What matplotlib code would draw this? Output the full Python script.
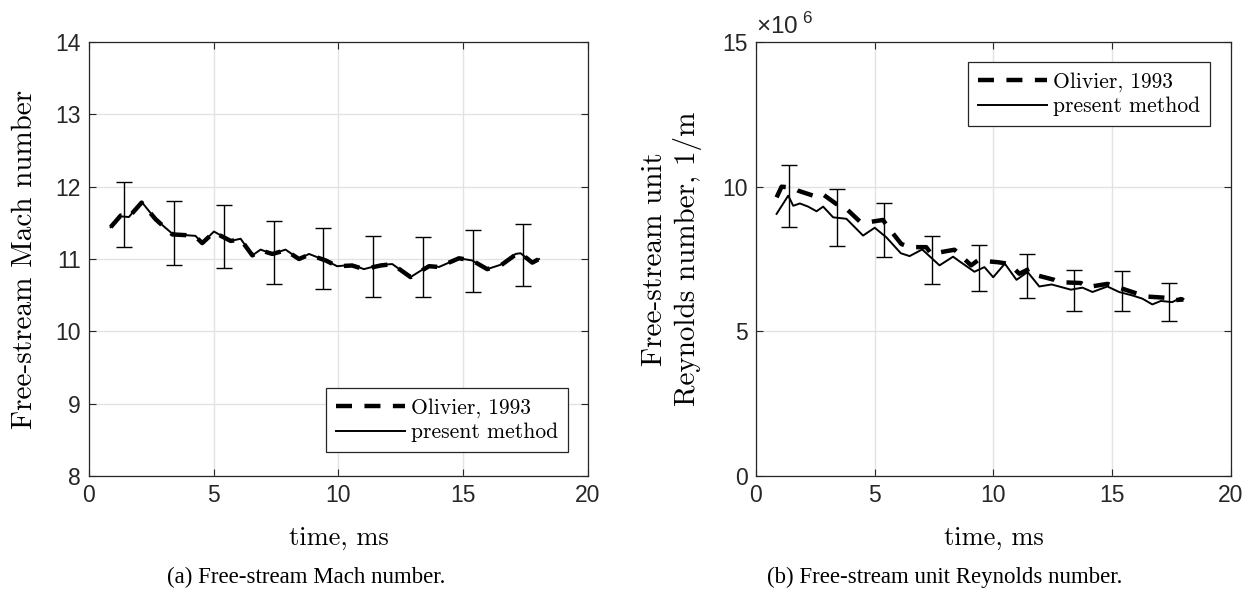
import matplotlib
matplotlib.use('Agg')
import matplotlib.pyplot as plt

# ---- data ----
# (a) Mach number
t_mach = [0.87, 1.27, 1.6, 2.11, 2.67, 3.34, 3.87, 4.27, 4.54, 5.01, 5.68, 6.08,
          6.55, 6.88, 7.35, 7.88, 8.42, 8.82, 9.49, 9.95, 10.55, 11.02, 11.69,
          12.16, 12.89, 13.63, 14.03, 14.83, 15.36, 15.96, 16.5, 17.1, 17.3,
          17.77, 18.04]
mach_present = [11.44, 11.59, 11.58, 11.79, 11.55, 11.35, 11.33, 11.32, 11.22,
                11.38, 11.25, 11.28, 11.05, 11.13, 11.07, 11.13, 11.0, 11.07,
                10.98, 10.9, 10.92, 10.86, 10.92, 10.93, 10.75, 10.91, 10.89,
                11.01, 10.98, 10.86, 10.92, 11.07, 11.08, 10.95, 11.0]
mach_olivier = [11.44, 11.60, 11.58, 11.78, 11.55, 11.34, 11.33, 11.31, 11.22,
                11.37, 11.25, 11.27, 11.05, 11.12, 11.07, 11.12, 11.0, 11.06,
                10.98, 10.9, 10.91, 10.86, 10.91, 10.93, 10.75, 10.90, 10.89,
                11.01, 10.98, 10.86, 10.91, 11.06, 11.08, 10.95, 11.0]

# error bars (both panels)
t_err = [1.4, 3.4, 5.4, 7.4, 9.4, 11.4, 13.4, 15.4, 17.4]
mach_err_c = [11.61, 11.36, 11.31, 11.085, 11.005, 10.895, 10.89, 10.97, 11.055]
mach_err = [0.45, 0.44, 0.44, 0.435, 0.425, 0.425, 0.42, 0.43, 0.435]

# (b) unit Reynolds number, x 10^6 1/m
t_re_present = [0.87, 1.36, 1.57, 1.85, 2.2, 2.55, 2.83, 3.25, 3.81, 4.51, 5.0,
                5.49, 6.1, 6.47, 7.0, 7.73, 8.3, 8.57, 9.2, 9.62, 9.99, 10.48,
                10.97, 11.44, 11.93, 12.45, 13.26, 13.75, 14.17, 14.8, 15.29,
                15.85, 16.27, 16.69, 17.05, 17.53, 17.89, 18.0]
re_present = [9.06, 9.69, 9.34, 9.42, 9.31, 9.15, 9.31, 8.94, 8.89, 8.31, 8.58,
              8.25, 7.7, 7.6, 7.83, 7.28, 7.58, 7.42, 7.06, 7.22, 6.87, 7.34,
              6.78, 7.05, 6.55, 6.62, 6.44, 6.51, 6.36, 6.55, 6.36, 6.24, 6.13,
              5.93, 6.05, 6.01, 6.16, 6.12]
t_re_olivier = [0.87, 1.08, 1.57, 1.78, 2.41, 2.76, 3.39, 3.74, 4.37, 4.72, 5.35,
                5.56, 6.12, 6.47, 7.17, 7.38, 8.15, 8.36, 9.06, 9.34, 10.18,
                10.67, 11.09, 11.51, 11.86, 12.56, 12.77, 13.68, 13.96, 14.8,
                15.15, 15.99, 16.5, 17.26, 17.47, 18.0]
re_olivier = [9.63, 10.0, 9.96, 9.86, 9.69, 9.77, 9.40, 9.29, 8.80, 8.77, 8.85,
              8.6, 8.02, 7.91, 7.91, 7.68, 7.79, 7.82, 7.28, 7.45, 7.39, 7.33,
              6.99, 7.16, 6.93, 6.78, 6.70, 6.67, 6.53, 6.64, 6.55, 6.32, 6.2,
              6.16, 6.07, 6.1]
re_err_c = [9.685, 8.94, 8.49, 7.46, 7.195, 6.905, 6.425, 6.385, 6.005]
re_err = [1.065, 0.98, 0.93, 0.82, 0.785, 0.755, 0.705, 0.695, 0.665]

# ---- style ----
plt.rcParams['font.family'] = ['Liberation Sans', 'DejaVu Sans']
plt.rcParams['mathtext.fontset'] = 'custom'
plt.rcParams['mathtext.rm'] = 'Liberation Sans'
plt.rcParams['axes.unicode_minus'] = False
serif = 'cmr10'
axc = '#262626'

fig = plt.figure(figsize=(12.53, 5.95), dpi=100)
ax1 = fig.add_axes([0.0710, 0.2, 0.3982, 0.7294])
ax2 = fig.add_axes([0.6033, 0.2, 0.3791, 0.7294])


def style(ax):
    ax.grid(True, color='#e3e3e3', linewidth=1.0)
    ax.set_axisbelow(True)
    ax.tick_params(direction='in', top=True, right=True, length=5,
                   color=axc, labelsize=16.5, labelcolor=axc, pad=6)
    for s in ax.spines.values():
        s.set_color(axc)
        s.set_linewidth(0.9)


def draw(ax, t1, y1, t2, y2, yc, ye):
    ax.plot(t1, y1, color='k', lw=3.2, ls=(0, (3.6, 2.8)),
            label='Olivier, 1993')
    ax.plot(t2, y2, color='k', lw=1.4, label='present method')
    ax.errorbar(t_err, yc, yerr=ye, fmt='none', ecolor='k', elinewidth=1.0,
                capsize=5.5, capthick=1.0)


def legend(ax, loc, anchor):
    leg = ax.legend(loc=loc, bbox_to_anchor=anchor,
                    prop={'family': serif, 'size': 15.5}, handlelength=3.2,
                    handletextpad=0.3, borderpad=0.45, labelspacing=0.25,
                    borderaxespad=0, fancybox=False, framealpha=1)
    leg.get_frame().set_edgecolor(axc)
    leg.get_frame().set_linewidth(0.9)


# (a)
draw(ax1, t_mach, mach_olivier, t_mach, mach_present, mach_err_c, mach_err)
style(ax1)
ax1.set_xlim(0, 20)
ax1.set_ylim(8, 14)
ax1.set_xticks([0, 5, 10, 15, 20])
ax1.set_yticks(range(8, 15))
ax1.set_xlabel('time, ms', family=serif, fontsize=19)
ax1.set_ylabel('Free-stream Mach number', family=serif, fontsize=21)
ax1.yaxis.set_label_coords(-0.102, 0.5)
ax1.xaxis.set_label_coords(0.5, -0.115)
legend(ax1, 'lower right', (0.96, 0.055))

# (b)
draw(ax2, t_re_olivier, re_olivier, t_re_present, re_present, re_err_c, re_err)
style(ax2)
ax2.set_xlim(0, 20)
ax2.set_ylim(0, 15)
ax2.set_xticks([0, 5, 10, 15, 20])
ax2.set_yticks([0, 5, 10, 15])
ax2.set_xlabel('time, ms', family=serif, fontsize=19)
ax2.set_ylabel('Free-stream unit\nReynolds number, 1/m', family=serif,
               fontsize=21, linespacing=1.25)
ax2.yaxis.set_label_coords(-0.113, 0.5)
ax2.xaxis.set_label_coords(0.5, -0.115)
ax2.text(0.0, 1.008, r'$\times10^{\ 6}$', transform=ax2.transAxes,
         fontsize=17.5, color=axc, ha='left', va='bottom')
legend(ax2, 'upper right', (0.956, 0.954))

# captions
fig.text(0.244, 0.012, '(a) Free-stream Mach number.',
         family='Liberation Serif', fontsize=16.5, ha='center', va='bottom')
fig.text(0.754, 0.012, '(b) Free-stream unit Reynolds number.',
         family='Liberation Serif', fontsize=16.5, ha='center', va='bottom')

fig.savefig('out.png', dpi=100)
